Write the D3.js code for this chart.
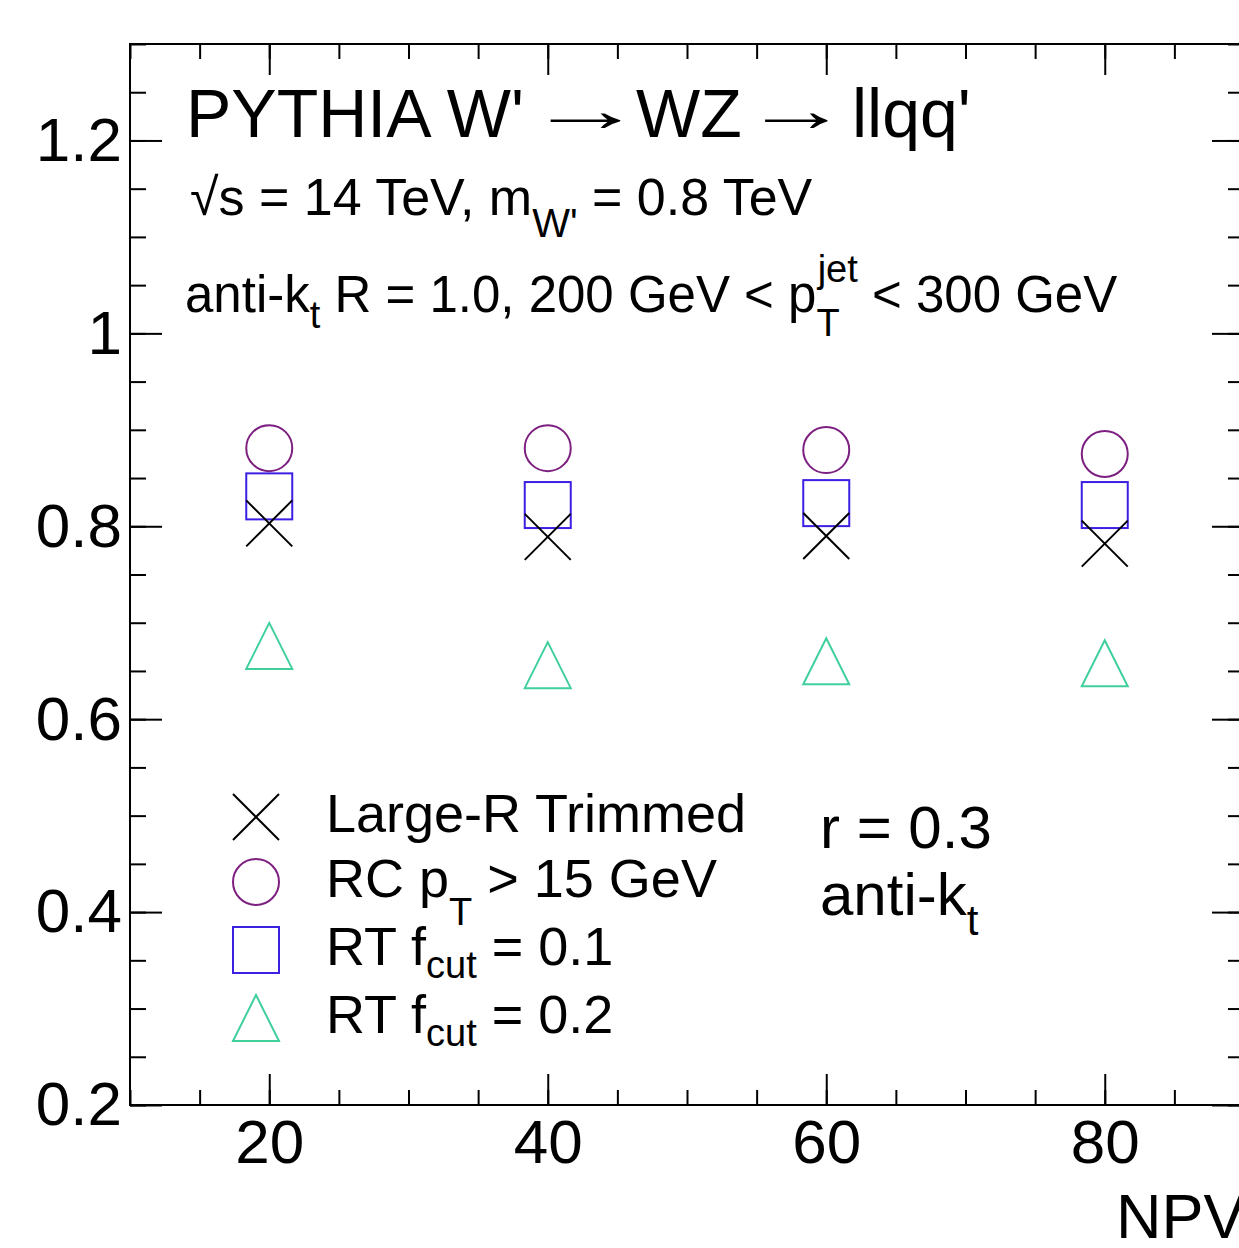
<!DOCTYPE html>
<html>
<head>
<meta charset="utf-8">
<script src="https://cdn.jsdelivr.net/npm/d3@7"></script>
<style>
  body { margin: 0; background: #fff; }
  svg text { font-family: "Liberation Sans", Arial, Helvetica, sans-serif; fill: #000; }
</style>
</head>
<body>
<div id="chart"></div>
<script>
// values
const npv = [20, 40, 60, 80];
const largeRTrimmed = [0.803, 0.789, 0.790, 0.782];
const rcPt15 = [0.881, 0.881, 0.879, 0.875];
const rtFcut01 = [0.831, 0.822, 0.824, 0.822];
const rtFcut02 = [0.676, 0.656, 0.660, 0.658];

const xMajor = [20, 40, 60, 80];
const xMinor = d3.range(10, 91, 5);
const yMajor = [0.2, 0.4, 0.6, 0.8, 1.0, 1.2];
const yMinor = d3.range(0.2, 1.31, 0.05);

const series = [
  { name: "Large-R Trimmed", vals: largeRTrimmed, shape: "x", color: "#000000" },
  { name: "RC pT > 15 GeV", vals: rcPt15, shape: "circle", color: "#7d1f80" },
  { name: "RT fcut = 0.1", vals: rtFcut01, shape: "square", color: "#3b1fe2" },
  { name: "RT fcut = 0.2", vals: rtFcut02, shape: "triangle", color: "#3fd09c" }
];

var width = 1239, height = 1248;
var padL = 130, padR = 1244, padT = 44, padB = 1105;

var svg = d3.select('#chart').append('svg')
  .attr('width', width).attr('height', height);

var x = d3.scaleLinear().domain([10, 90]).range([padL, padR]);
var y = d3.scaleLinear().domain([0.2, 1.3]).range([padB, padT]);

// frame
svg.append('rect')
  .attr('x', padL).attr('y', padT)
  .attr('width', padR - padL).attr('height', padB - padT)
  .attr('fill', 'none').attr('stroke', '#000').attr('stroke-width', 2);

function cleanAxis(g) {
  g.select('.domain').remove();
  g.selectAll('.tick line').attr('stroke', '#000').attr('stroke-width', 2);
}

// minor ticks, all four sides
svg.append('g').attr('transform', 'translate(0,' + padB + ')')
  .call(d3.axisBottom(x).tickValues(xMinor).tickSize(-15).tickFormat(''))
  .call(cleanAxis);
svg.append('g').attr('transform', 'translate(0,' + padT + ')')
  .call(d3.axisTop(x).tickValues(xMinor).tickSize(-15).tickFormat(''))
  .call(cleanAxis);
svg.append('g').attr('transform', 'translate(' + padL + ',0)')
  .call(d3.axisLeft(y).tickValues(yMinor).tickSize(-16).tickFormat(''))
  .call(cleanAxis);
svg.append('g').attr('transform', 'translate(' + padR + ',0)')
  .call(d3.axisRight(y).tickValues(yMinor).tickSize(-16).tickFormat(''))
  .call(cleanAxis);

// major ticks
svg.append('g').attr('transform', 'translate(0,' + padB + ')')
  .call(d3.axisBottom(x).tickValues(xMajor).tickSize(-31).tickPadding(14).tickFormat(d3.format('d')))
  .call(cleanAxis)
  .call(g => g.selectAll('text').attr('font-size', 62).attr('fill', '#000'));
svg.append('g').attr('transform', 'translate(0,' + padT + ')')
  .call(d3.axisTop(x).tickValues(xMajor).tickSize(-31).tickFormat(''))
  .call(cleanAxis);
svg.append('g').attr('transform', 'translate(' + padL + ',0)')
  .call(d3.axisLeft(y).tickValues(yMajor).tickSize(-32).tickPadding(8).tickFormat(d3.format('~g')))
  .call(cleanAxis)
  .call(g => g.selectAll('text').attr('font-size', 62).attr('fill', '#000'));
svg.append('g').attr('transform', 'translate(' + padR + ',0)')
  .call(d3.axisRight(y).tickValues(yMajor).tickSize(-32).tickFormat(''))
  .call(cleanAxis);

// axis title
svg.append('text').attr('x', 1116).attr('y', 1238)
  .attr('font-size', 63).text('NPV');

// markers
var R = 23;
function drawMarker(g, shape, cx, cy, color) {
  if (shape === 'circle') {
    g.append('circle').attr('cx', cx).attr('cy', cy).attr('r', R);
  } else if (shape === 'square') {
    g.append('rect').attr('x', cx - R).attr('y', cy - R).attr('width', 2 * R).attr('height', 2 * R);
  } else if (shape === 'triangle') {
    g.append('path').attr('d', 'M' + cx + ',' + (cy - R) + 'L' + (cx + R) + ',' + (cy + R) + 'L' + (cx - R) + ',' + (cy + R) + 'Z');
  } else {
    g.append('path').attr('d', 'M' + (cx - R) + ',' + (cy - R) + 'L' + (cx + R) + ',' + (cy + R) +
      'M' + (cx - R) + ',' + (cy + R) + 'L' + (cx + R) + ',' + (cy - R));
  }
  g.selectAll('*').attr('fill', 'none').attr('stroke', color).attr('stroke-width', 2);
}

// draw order: triangle, square, circle, cross on top
[3, 2, 1, 0].forEach(function(si) {
  var s = series[si];
  s.vals.forEach(function(v, i) {
    drawMarker(svg.append('g').attr('class', 'marker'), s.shape, x(npv[i]), y(v), s.color);
  });
});

// header text (title pieces placed like ROOT's latex, long arrows)
var title = svg.append('g');
title.append('text').attr('x', 186).attr('y', 137).attr('font-size', 68).text("PYTHIA W'");
title.append('text').attr('transform', 'translate(527,131) scale(1.9,1)').attr('font-size', 62).text('\u2192');
title.append('text').attr('x', 636).attr('y', 137).attr('font-size', 68).text('WZ');
title.append('text').attr('transform', 'translate(744,131) scale(1.7,1)').attr('font-size', 62).text('\u2192');
title.append('text').attr('x', 852).attr('y', 137).attr('font-size', 68).text("llqq'");

var t2 = svg.append('text').attr('x', 190).attr('y', 215).attr('font-size', 52);
t2.append('tspan').text('\u221As = 14 TeV, m');
t2.append('tspan').attr('font-size', 40).attr('dy', 22).text("W'");
t2.append('tspan').attr('dy', -22).text(' = 0.8 TeV');

var t3 = svg.append('text').attr('x', 185).attr('y', 312).attr('font-size', 51);
t3.append('tspan').text('anti-k');
t3.append('tspan').attr('font-size', 38).attr('dy', 16).text('t');
t3.append('tspan').attr('dy', -16).text(' R = 1.0, 200 GeV < p');
t3.append('tspan').attr('font-size', 38).attr('dy', 24).text('T');
t3.append('tspan').attr('font-size', 38).attr('dx', -22).attr('dy', -54).text('jet');
t3.append('tspan').attr('dy', 30).text(' < 300 GeV');

// legend
var legY = [817, 882, 950, 1018];
var leg = svg.append('g');
series.forEach(function(s, i) {
  drawMarker(leg.append('g'), s.shape, 256, legY[i], s.color);
});
leg.append('text').attr('x', 326).attr('y', 832).attr('font-size', 54).text('Large-R Trimmed');
var l1 = leg.append('text').attr('x', 326).attr('y', 897).attr('font-size', 54);
l1.append('tspan').text('RC p');
l1.append('tspan').attr('font-size', 38).attr('dy', 28).text('T');
l1.append('tspan').attr('dy', -28).text(' > 15 GeV');
[['0.1', 965], ['0.2', 1033]].forEach(function(d) {
  var l = leg.append('text').attr('x', 326).attr('y', d[1]).attr('font-size', 54);
  l.append('tspan').text('RT f');
  l.append('tspan').attr('font-size', 38).attr('dy', 13).text('cut');
  l.append('tspan').attr('dy', -13).text(' = ' + d[0]);
});

svg.append('text').attr('x', 820).attr('y', 848).attr('font-size', 60).text('r = 0.3');
var r2 = svg.append('text').attr('x', 820).attr('y', 915).attr('font-size', 60);
r2.append('tspan').text('anti-k');
r2.append('tspan').attr('font-size', 42).attr('dy', 20).text('t');
</script>
</body>
</html>
